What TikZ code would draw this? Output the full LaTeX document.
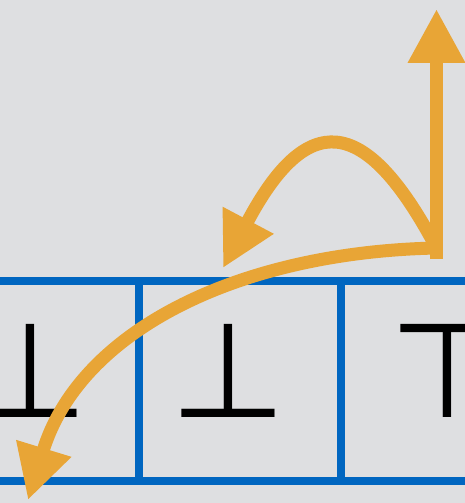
\documentclass[tikz,border=0pt]{standalone}
\usepackage{fontspec}
\newfontfamily\symfont{DejaVu Sans}
\usetikzlibrary{arrows.meta}
\definecolor{bg}{RGB}{222,223,225}
\definecolor{gridblue}{RGB}{0,102,192}
\definecolor{arrorange}{RGB}{232,165,54}
\tikzset{
  gridline/.style={draw=gridblue,line width=8pt},
  orangearrow/.style={draw=arrorange,line width=13pt,-{Triangle[length=54pt,width=54pt]}},
  sym/.style={inner sep=0pt,anchor=base,font=\symfont\fontsize{133}{133}\selectfont}
}
\begin{document}
\begin{tikzpicture}[x=1pt,y=-1pt]
\clip (0,0) rectangle (465,503);
\fill[bg] (0,0) rectangle (465,503);
% grid
\coordinate (tl) at (0,280.5);
\coordinate (tr) at (465,280.5);
\coordinate (bl) at (0,480.5);
\coordinate (br) at (465,480.5);
\coordinate (v1t) at (138.5,280.5);
\coordinate (v1b) at (138.5,480.5);
\coordinate (v2t) at (340.5,280.5);
\coordinate (v2b) at (340.5,480.5);
\draw[gridline] (tl) -- (tr);
\draw[gridline] (bl) -- (br);
\draw[gridline] (v1t) -- (v1b);
\draw[gridline] (v2t) -- (v2b);
% symbols
\node[sym] (s1) at (30.5,417) {⊥};
\node[sym] (s2) at (228,417) {⊥};
\node[sym] (s3) at (447,417) {⊤};
% arrows
\coordinate (o) at (436.5,248);
\coordinate (ob) at (436.5,259);
\coordinate (up) at (436.5,9);
\coordinate (arcend) at (223,268);
\coordinate (longend) at (28,500);
\draw[orangearrow] (ob) -- (up);
\draw[orangearrow] (o) .. controls (364,111) and (306,111) .. (arcend);
\draw[orangearrow] (o) .. controls (240,252) and (80,330) .. (longend);
\end{tikzpicture}
\end{document}
